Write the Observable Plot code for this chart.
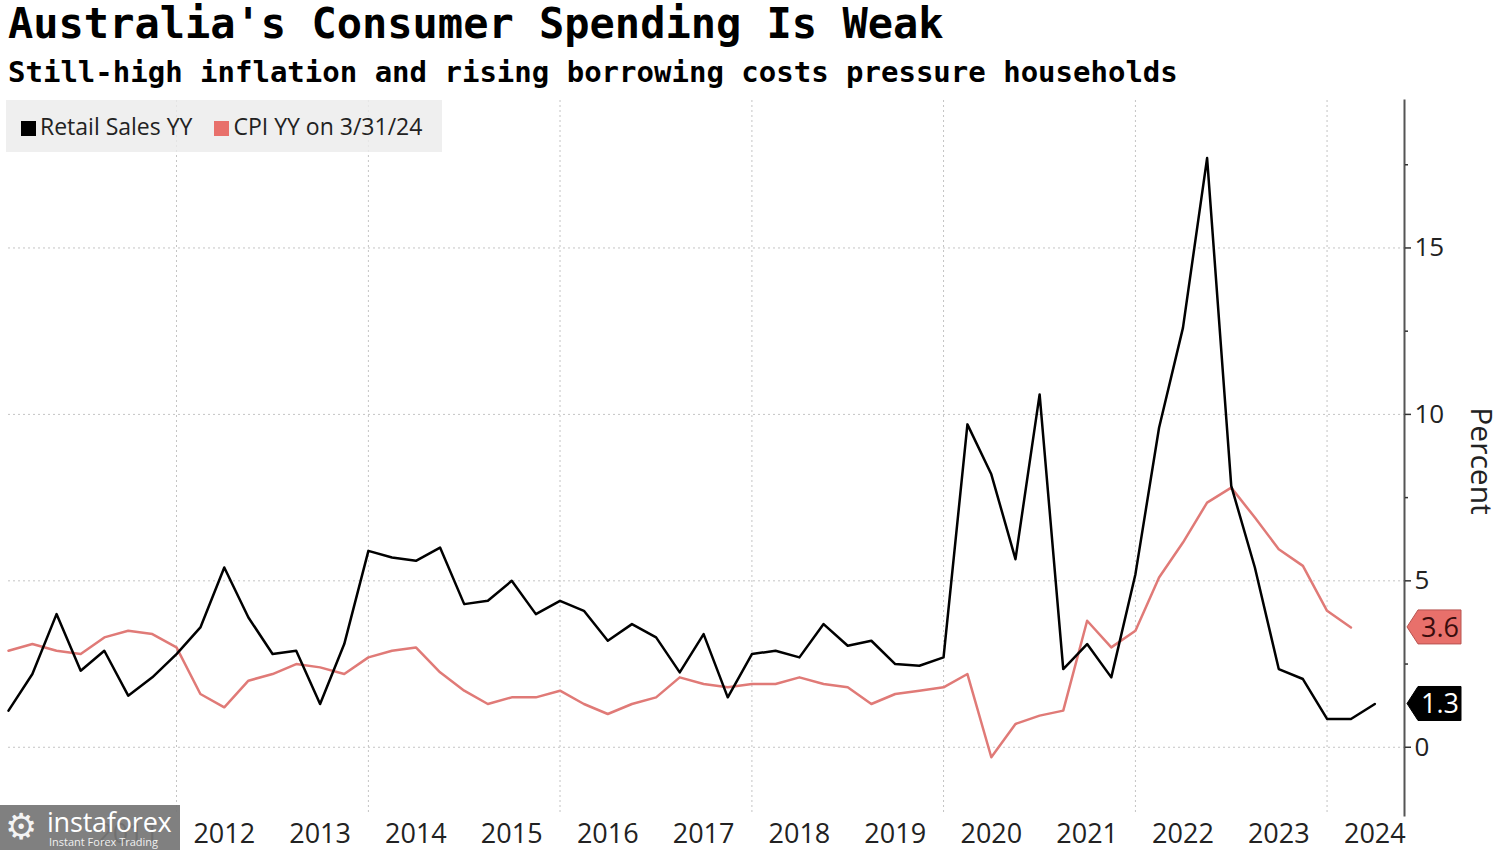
<!DOCTYPE html>
<html>
<head>
<meta charset="utf-8">
<script src="https://cdn.jsdelivr.net/npm/d3@7"></script>
<script src="https://cdn.jsdelivr.net/npm/@observablehq/plot@0.6"></script>
<style>
  html, body { margin: 0; padding: 0; background: #fff; }
  body { width: 1500px; height: 850px; position: relative; overflow: hidden; }
  .title { position: absolute; left: 8px; top: 3px; font: bold 42px/42px "DejaVu Sans Mono", monospace; color: #000; white-space: nowrap; }
  .subtitle { position: absolute; left: 8px; top: 58px; font: bold 29px/29px "DejaVu Sans Mono", monospace; color: #000; white-space: nowrap; }
  #chart { position: absolute; left: 0; top: 90px; }
  .legend { position: absolute; left: 6px; top: 100px; width: 436px; height: 52px; background: rgba(236,236,236,0.82);
            font: 23px/52px "Open Sans", sans-serif; color: #222; white-space: nowrap; }
  .legend .sw { display: inline-block; width: 15px; height: 15px; vertical-align: -1px; margin-right: 4px; }
  .wm { position: absolute; left: 0; top: 805px; width: 180px; height: 45px; background: rgba(118,118,118,0.93); color: #fff; overflow: hidden; }
  .wm .gear { position: absolute; left: 5px; top: 2px; font: 36px/40px "DejaVu Sans", sans-serif; color: #f4f4f4; }
  .wm .name { position: absolute; left: 47px; top: 1px; font: 27px/32px "Open Sans", sans-serif; color: #fff; letter-spacing: -0.2px; }
  .wm .tag { position: absolute; left: 49px; top: 31px; font: 11px/12px "Open Sans", sans-serif; color: #f0f0f0; }
</style>
</head>
<body>
<div class="title">Australia's Consumer Spending Is Weak</div>
<div class="subtitle">Still-high inflation and rising borrowing costs pressure households</div>
<div id="chart"></div>
<div class="legend"><span style="margin-left:15px"></span><span class="sw" style="background:#000"></span>Retail Sales YY<span style="margin-left:22px"></span><span class="sw" style="background:#e8706b"></span>CPI YY on 3/31/24</div>
<div class="wm"><span class="gear">⚙</span><span class="name">instaforex</span><span class="tag">Instant Forex Trading</span></div>
<script>
// Quarterly observations starting with the quarter ending 3/31/2010
const firstQuarterEnd = new Date(Date.UTC(2010, 3, 1));

// Retail Sales YY, % (Q1 2010 ... Q2 2024)
const retailSales = [
  1.1, 2.2, 4.0, 2.3,
  2.9, 1.55, 2.1, 2.8,
  3.6, 5.4, 3.9, 2.8,
  2.9, 1.3, 3.1, 5.9,
  5.7, 5.6, 6.0, 4.3,
  4.4, 5.0, 4.0, 4.4,
  4.1, 3.2, 3.7, 3.3,
  2.25, 3.4, 1.5, 2.8,
  2.9, 2.7, 3.7, 3.05,
  3.2, 2.5, 2.45, 2.7,
  9.7, 8.2, 5.65, 10.6,
  2.35, 3.1, 2.1, 5.2,
  9.6, 12.6, 17.7, 7.85,
  5.4, 2.35, 2.05, 0.85,
  0.85, 1.3
];

// CPI YY, % (Q1 2010 ... Q1 2024)
const cpi = [
  2.9, 3.1, 2.9, 2.8,
  3.3, 3.5, 3.4, 3.0,
  1.6, 1.2, 2.0, 2.2,
  2.5, 2.4, 2.2, 2.7,
  2.9, 3.0, 2.25, 1.7,
  1.3, 1.5, 1.5, 1.7,
  1.3, 1.0, 1.3, 1.5,
  2.1, 1.9, 1.8, 1.9,
  1.9, 2.1, 1.9, 1.8,
  1.3, 1.6, 1.7, 1.8,
  2.2, -0.3, 0.7, 0.95,
  1.1, 3.8, 3.0, 3.5,
  5.1, 6.15, 7.35, 7.8,
  6.9, 5.95, 5.45, 4.1,
  3.6
];

const yearLabels = [2011, 2012, 2013, 2014, 2015, 2016, 2017, 2018, 2019, 2020, 2021, 2022, 2023, 2024];
const gridYears = [2012, 2014, 2016, 2018, 2020, 2022, 2024];
const yMajorTicks = [0, 5, 10, 15];
const yMinorTicks = [2.5, 7.5, 12.5, 17.5];

const lastTags = [
  {value: 1.3, label: "1.3", fill: "#000000", stroke: "#000000", color: "#ffffff"},
  {value: 3.6, label: "3.6", fill: "#e8706b", stroke: "#b85450", color: "#3a0d0d"}
];

const toRows = arr => arr.map((v, i) => ({date: d3.utcMonth.offset(firstQuarterEnd, 3 * i), value: v}));
const retailRows = toRows(retailSales);
const cpiRows = toRows(cpi);

const grid = {stroke: "#c4c4c4", strokeDasharray: "2,3", strokeWidth: 1};

function tagMark(index, scales, values, dims) {
  const g = d3.create("svg:g");
  const x0 = dims.width - dims.marginRight + 3;
  for (const t of lastTags) {
    const yc = scales.y(t.value);
    g.append("path")
      .attr("d", `M${x0},${yc} L${x0 + 11},${yc - 17} L${x0 + 54},${yc - 17} L${x0 + 54},${yc + 17} L${x0 + 11},${yc + 17} Z`)
      .attr("fill", t.fill).attr("stroke", t.stroke).attr("stroke-width", 1);
    g.append("text")
      .attr("x", x0 + 33).attr("y", yc).attr("dy", "0.36em")
      .attr("text-anchor", "middle")
      .attr("fill", t.color)
      .attr("font-size", 27)
      .text(t.label);
  }
  return g.node();
}

const chart = Plot.plot({
  width: 1500,
  height: 760,
  marginTop: 10,
  marginBottom: 35,
  marginLeft: 8,
  marginRight: 96,
  style: {fontFamily: "'Open Sans', sans-serif", fontSize: "26px", color: "#222", background: "transparent", overflow: "visible"},
  x: {type: "utc", domain: [firstQuarterEnd, new Date(Date.UTC(2024, 9, 22))]},
  y: {domain: [-2.05, 19.43]},
  marks: [
    Plot.ruleY(yMajorTicks, grid),
    Plot.ruleX(gridYears.map(y => new Date(Date.UTC(y, 0, 1))), grid),
    Plot.line(cpiRows, {x: "date", y: "value", stroke: "#e07a77", strokeWidth: 2.5, strokeLinejoin: "round"}),
    Plot.line(retailRows, {x: "date", y: "value", stroke: "#000", strokeWidth: 2.5, strokeLinejoin: "round"}),
    Plot.frame({anchor: "right", stroke: "#555", strokeWidth: 2}),
    Plot.axisY({anchor: "right", ticks: yMajorTicks, tickSize: 6, tickPadding: 4, label: null, stroke: "#333", strokeWidth: 1.5, fill: "#222"}),
    Plot.axisY({anchor: "right", ticks: yMinorTicks, tickSize: 3, tickFormat: () => "", label: null, stroke: "#333", strokeWidth: 1.5}),
    Plot.axisX({ticks: yearLabels.map(y => new Date(Date.UTC(y, 6, 1))), tickSize: 0, tickPadding: 8, tickFormat: d3.utcFormat("%Y"), label: null, fontSize: 27, fill: "#222"}),
    Plot.text(["Percent"], {frameAnchor: "right", dx: 76, dy: 3, rotate: 90, textAnchor: "middle", text: d => d, fontSize: 30, fill: "#222"}),
    tagMark
  ]
});
document.getElementById("chart").appendChild(chart);
</script>
</body>
</html>
